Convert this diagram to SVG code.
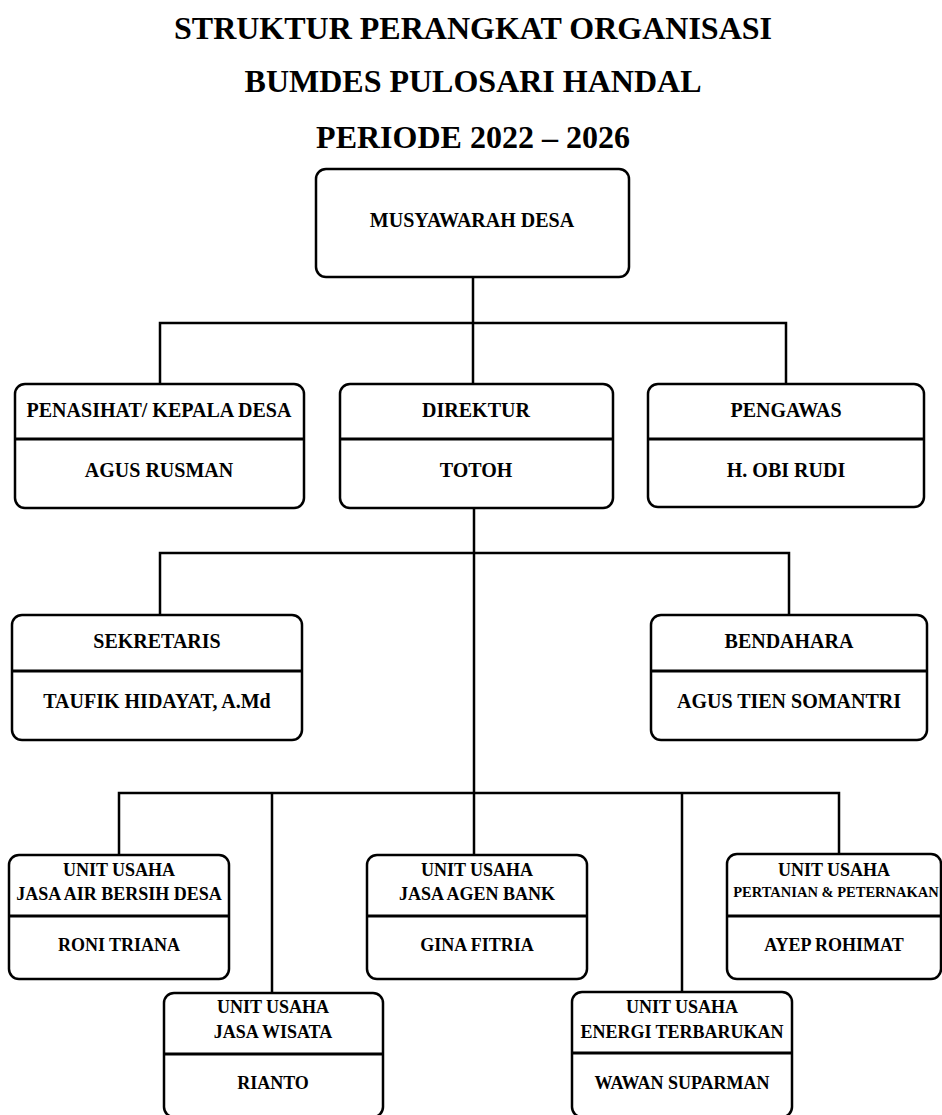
<svg xmlns="http://www.w3.org/2000/svg" width="942" height="1115" viewBox="0 0 942 1115">
<style>
.t{font-family:"Liberation Serif","Times New Roman",serif;font-weight:bold;fill:#000;text-anchor:middle}
.title{font-size:32px}
.lbl{font-size:20px}
.u{font-size:18px}
.s{font-size:14.5px}
.box{fill:#fff;stroke:#000;stroke-width:2.5}
.div{stroke:#000;stroke-width:3}
.con{fill:none;stroke:#000;stroke-width:2.5}
</style>
<rect width="942" height="1115" fill="#fff"/>
<g id="title">
<text class="t title" x="473" y="39">STRUKTUR PERANGKAT ORGANISASI</text>
<text class="t title" x="473" y="92">BUMDES PULOSARI HANDAL</text>
<text class="t title" x="473" y="148">PERIODE 2022 – 2026</text>
</g>
<g id="connectors">
<path class="con" d="M473 277V384M160 384V323H786V384"/>
<path class="con" d="M474 508V855M160 615V553H789V615"/>
<path class="con" d="M119 855V793H839V854M272 793V993M682 793V992"/>
</g>
<g id="musyawarah">
<rect class="box" x="316" y="169" width="313" height="108" rx="10"/>
<text class="t lbl" x="472" y="227">MUSYAWARAH DESA</text>
</g>
<g id="penasihat">
<rect class="box" x="15" y="384" width="289" height="124" rx="10"/>
<line class="div" x1="15" y1="439" x2="304" y2="439"/>
<text class="t lbl" x="159" y="417">PENASIHAT/ KEPALA DESA</text>
<text class="t lbl" x="159" y="477">AGUS RUSMAN</text>
</g>
<g id="direktur">
<rect class="box" x="340" y="384" width="273" height="124" rx="10"/>
<line class="div" x1="340" y1="439" x2="613" y2="439"/>
<text class="t lbl" x="476" y="417">DIREKTUR</text>
<text class="t lbl" x="476" y="477">TOTOH</text>
</g>
<g id="pengawas">
<rect class="box" x="648" y="384" width="276" height="123" rx="10"/>
<line class="div" x1="648" y1="439" x2="924" y2="439"/>
<text class="t lbl" x="786" y="417">PENGAWAS</text>
<text class="t lbl" x="786" y="477">H. OBI RUDI</text>
</g>
<g id="sekretaris">
<rect class="box" x="12" y="615" width="290" height="125" rx="10"/>
<line class="div" x1="12" y1="671" x2="302" y2="671"/>
<text class="t lbl" x="157" y="648">SEKRETARIS</text>
<text class="t lbl" x="157" y="708">TAUFIK HIDAYAT, A.Md</text>
</g>
<g id="bendahara">
<rect class="box" x="651" y="615" width="276" height="125" rx="10"/>
<line class="div" x1="651" y1="671" x2="927" y2="671"/>
<text class="t lbl" x="789" y="648">BENDAHARA</text>
<text class="t lbl" x="789" y="708">AGUS TIEN SOMANTRI</text>
</g>
<g id="unit-air">
<rect class="box" x="9" y="855" width="220" height="124" rx="10"/>
<line class="div" x1="9" y1="916" x2="229" y2="916"/>
<text class="t u" x="119" y="876">UNIT USAHA</text>
<text class="t u" x="119" y="900">JASA AIR BERSIH DESA</text>
<text class="t u" x="119" y="951">RONI TRIANA</text>
</g>
<g id="unit-wisata">
<rect class="box" x="164" y="993" width="219" height="124" rx="10"/>
<line class="div" x1="164" y1="1054" x2="383" y2="1054"/>
<text class="t u" x="273" y="1013">UNIT USAHA</text>
<text class="t u" x="273" y="1038">JASA WISATA</text>
<text class="t u" x="273" y="1089">RIANTO</text>
</g>
<g id="unit-bank">
<rect class="box" x="367" y="855" width="220" height="124" rx="10"/>
<line class="div" x1="367" y1="916" x2="587" y2="916"/>
<text class="t u" x="477" y="876">UNIT USAHA</text>
<text class="t u" x="477" y="900">JASA AGEN BANK</text>
<text class="t u" x="477" y="951">GINA FITRIA</text>
</g>
<g id="unit-energi">
<rect class="box" x="572" y="992" width="220" height="125" rx="10"/>
<line class="div" x1="572" y1="1053" x2="792" y2="1053"/>
<text class="t u" x="682" y="1013">UNIT USAHA</text>
<text class="t u" x="682" y="1038">ENERGI TERBARUKAN</text>
<text class="t u" x="682" y="1089">WAWAN SUPARMAN</text>
</g>
<g id="unit-pertanian">
<rect class="box" x="727" y="854" width="214" height="125" rx="10"/>
<line class="div" x1="727" y1="916" x2="941" y2="916"/>
<text class="t u" x="834" y="876">UNIT USAHA</text>
<text class="t s" x="836" y="897">PERTANIAN &amp; PETERNAKAN</text>
<text class="t u" x="834" y="951">AYEP ROHIMAT</text>
</g>
</svg>
